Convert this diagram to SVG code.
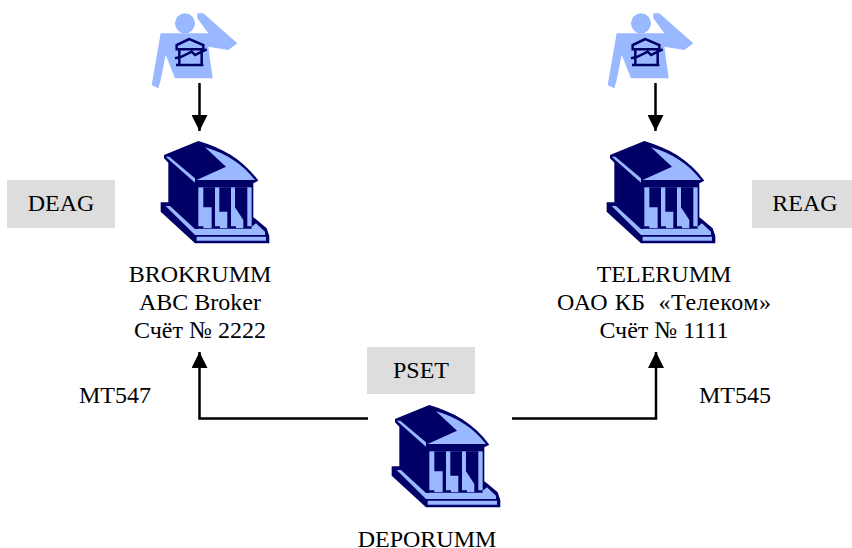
<svg xmlns="http://www.w3.org/2000/svg" width="852" height="548" viewBox="0 0 852 548">
<style>
text{font-family:"Liberation Serif","Times New Roman",serif;font-size:24px;fill:#000;text-anchor:middle;white-space:pre}
.tag{fill:#ddd}
.d{fill:#000066}
.l{fill:#99b8ff}
.dl{fill:none;stroke:#000066;stroke-width:7.500}
.c{fill:none;stroke:#000;stroke-width:2.500}
</style>
<defs>
<marker id="ah" markerUnits="userSpaceOnUse" markerWidth="16" markerHeight="16" refX="16" refY="8" orient="auto"><path d="M0 0L16 8L0 16Z" fill="#000"/></marker>
<g id="bank" transform="translate(-11 -11) scale(.3333)">
<path class="d" d="M145 33L42 75V85L55 98V217H32V245L135 340H358V318L350 295L318 268L310 262V160L325 152C280 90 220 55 145 33Z"/>
<path class="l" d="M47 80H58L135 145V158ZM165 52C230 70 280 105 315 150H140L228 110Z"/>
<rect class="l" x="145" y="172" width="160" height="123"/>
<path class="d" d="M160 172H195V289H210V295H185V232H160ZM208 172H243V289H258V295H232V245H208ZM255 172H292V289H305V295H280V270L255 232ZM135 289H160V295H135Z"/>
<path class="l" d="M47 228H60L135 297H305V290L318 280L345 305V315H135Z"/>
<path class="l" d="M140 320H348V332H140Z"/>
</g>
<g id="person" transform="translate(-12 -13) scale(.3333)">
<circle class="l" cx="135" cy="70" r="30"/>
<path class="l" d="M62 100L35 255L55 265L62 240L77 165L105 235H218L205 140L265 150L292 130L190 40H172V55L205 100Z"/>
<path class="dl" d="M148 117L110 135V148H190V135ZM118 148V195M185 148V195M108 195H190M105 175L125 170L155 155L165 165L200 148"/>
</g>
</defs>
<g id="connectors">
<path class="c" d="M199.500 83V131" marker-end="url(#ah)"/>
<path class="c" d="M655.500 83V131" marker-end="url(#ah)"/>
<path class="c" d="M368 418.500H199.500V352" marker-end="url(#ah)"/>
<path class="c" d="M512 418.500H656V352" marker-end="url(#ah)"/>
</g>
<g id="person-left"><use href="#person" x="152" y="13"/></g>
<g id="person-right"><use href="#person" x="608" y="13"/></g>
<g id="node-brokrumm">
<use href="#bank" x="161" y="141"/>
<text x="200" y="282">BROKRUMM</text><text x="200" y="310">ABC Broker</text><text x="200" y="338">Счёт № 2222</text>
</g>
<g id="node-telerumm">
<use href="#bank" x="607" y="141"/>
<text x="664" y="282">TELERUMM</text><text x="664" y="310" textLength="214">ОАО КБ  «Телеком»</text><text x="664" y="338">Счёт № 1111</text>
</g>
<g id="node-deporumm">
<use href="#bank" x="392" y="405"/>
<text x="427" y="547">DEPORUMM</text>
</g>
<g id="tag-deag"><rect class="tag" x="7" y="180" width="108" height="48"/><text x="61" y="211">DEAG</text></g>
<g id="tag-reag"><rect class="tag" x="752" y="180" width="100" height="48"/><text x="805" y="211">REAG</text></g>
<g id="tag-pset"><rect class="tag" x="367" y="347" width="108" height="47"/><text x="421" y="378">PSET</text></g>
<g id="label-mt547"><text x="115" y="403">MT547</text></g>
<g id="label-mt545"><text x="735" y="403">MT545</text></g>
</svg>
